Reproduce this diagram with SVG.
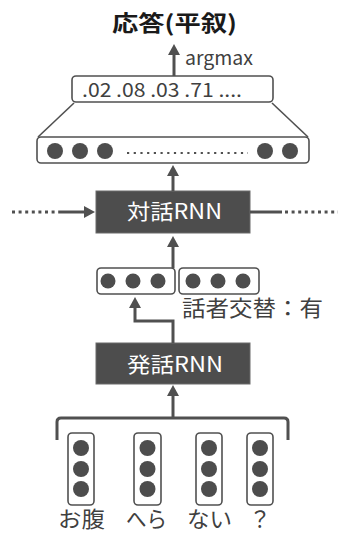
<svg xmlns="http://www.w3.org/2000/svg" width="338" height="533" viewBox="0 0 338 533">
<style>
text{font-family:"Noto Sans CJK JP","Liberation Sans",sans-serif;fill:#404040}
.title{font-weight:bold;fill:#1a1a1a;font-size:22px}
.box{fill:#fff;stroke:#505050;stroke-width:1.6}
.dark{fill:#4d4d4d;stroke:#6a6a6a;stroke-width:1}
.dot{fill:#4d4d4d}
.wt{fill:#fff;font-size:21px}
.ln{fill:none;stroke:#505050;stroke-width:3}
.dash{fill:none;stroke:#505050;stroke-width:3;stroke-dasharray:3 3.6}
.thin{fill:none;stroke:#505050;stroke-width:1.6}
.lbl{font-size:22px;text-anchor:middle}
</style>
<defs>
<marker id="ah" markerUnits="userSpaceOnUse" markerWidth="11" markerHeight="12" refX="2" refY="6" orient="auto">
<path d="M0,0 L11,6 L0,12 z" fill="#505050"/>
</marker>
</defs>

<g id="title"><text class="title" x="112" y="31" textLength="125" lengthAdjust="spacingAndGlyphs">応答(平叙)</text></g>

<g id="argmax-label"><text x="185" y="65" font-size="19" textLength="68" lengthAdjust="spacingAndGlyphs">argmax</text></g>

<g id="softmax">
<rect class="box" x="72" y="76" width="201" height="26" rx="4"/>
<text x="82" y="97" font-size="19" textLength="160" lengthAdjust="spacingAndGlyphs">.02 .08 .03 .71 ....</text>
</g>

<g id="projection">
<line class="thin" x1="74" y1="103" x2="38" y2="137"/>
<line class="thin" x1="272" y1="103" x2="308" y2="137"/>
</g>

<g id="hidden">
<rect class="box" x="37" y="137" width="272" height="26" rx="4"/>
<circle class="dot" cx="55" cy="151" r="8"/>
<circle class="dot" cx="80" cy="151" r="8"/>
<circle class="dot" cx="105" cy="151" r="8"/>
<circle class="dot" cx="265" cy="151" r="8"/>
<circle class="dot" cx="290" cy="151" r="8"/>
<line x1="127" y1="153" x2="248" y2="153" stroke="#505050" stroke-width="2.2" stroke-dasharray="2.2 4.5"/>
</g>

<g id="dialog-rnn">
<rect class="dark" x="96" y="191" width="154" height="42"/>
<text class="wt" x="127" y="219" textLength="95" lengthAdjust="spacingAndGlyphs">対話RNN</text>
</g>

<g id="pair">
<rect class="box" x="97" y="268" width="78" height="26" rx="4"/>
<circle class="dot" cx="108" cy="281" r="7.5"/>
<circle class="dot" cx="133" cy="281" r="7.5"/>
<circle class="dot" cx="158" cy="281" r="7.5"/>
<rect class="box" x="179" y="268" width="80" height="26" rx="4"/>
<circle class="dot" cx="193" cy="281" r="7.5"/>
<circle class="dot" cx="218" cy="281" r="7.5"/>
<circle class="dot" cx="243" cy="281" r="7.5"/>
</g>

<g id="speaker-label"><text x="182" y="316" font-size="22" textLength="141" lengthAdjust="spacingAndGlyphs">話者交替：有</text></g>

<g id="utter-rnn">
<rect class="dark" x="96" y="343" width="154" height="41"/>
<text class="wt" x="127" y="372" textLength="96" lengthAdjust="spacingAndGlyphs">発話RNN</text>
</g>

<g id="words">
<rect class="box" x="68" y="433" width="26" height="72" rx="4"/>
<circle class="dot" cx="81" cy="448" r="8"/><circle class="dot" cx="81" cy="469" r="8"/><circle class="dot" cx="81" cy="489" r="8"/>
<rect class="box" x="134" y="433" width="27" height="72" rx="4"/>
<circle class="dot" cx="147.5" cy="448" r="8"/><circle class="dot" cx="147.5" cy="469" r="8"/><circle class="dot" cx="147.5" cy="489" r="8"/>
<rect class="box" x="196" y="433" width="26" height="72" rx="4"/>
<circle class="dot" cx="209" cy="448" r="8"/><circle class="dot" cx="209" cy="469" r="8"/><circle class="dot" cx="209" cy="489" r="8"/>
<rect class="box" x="247" y="433" width="26" height="72" rx="4"/>
<circle class="dot" cx="260" cy="448" r="8"/><circle class="dot" cx="260" cy="469" r="8"/><circle class="dot" cx="260" cy="489" r="8"/>
<text class="lbl" x="81.5" y="527" textLength="47" lengthAdjust="spacingAndGlyphs">お腹</text>
<text class="lbl" x="146.5" y="527" textLength="41" lengthAdjust="spacingAndGlyphs">へら</text>
<text class="lbl" x="209.5" y="527" textLength="45" lengthAdjust="spacingAndGlyphs">ない</text>
<text class="lbl" x="260" y="527">？</text>
</g>

<g id="connectors">
<line class="ln" x1="174" y1="76" x2="174" y2="53" marker-end="url(#ah)"/>
<line class="ln" x1="173" y1="191" x2="173" y2="174" marker-end="url(#ah)"/>
<line class="dash" x1="12" y1="212" x2="60" y2="212"/>
<line class="ln" x1="60" y1="212" x2="86" y2="212" marker-end="url(#ah)"/>
<line class="ln" x1="250" y1="212" x2="282" y2="212"/>
<line class="dash" x1="285" y1="212" x2="338" y2="212"/>
<line class="ln" x1="173" y1="268" x2="173" y2="245" marker-end="url(#ah)"/>
<polyline class="ln" points="173,343 173,321 135,321 135,306" marker-end="url(#ah)"/>
<line class="ln" x1="173" y1="418" x2="173" y2="394" marker-end="url(#ah)"/>
<path class="ln" d="M57,440 V422 Q57,418 61,418 H284 Q288,418 288,422 V440"/>
</g>
</svg>
